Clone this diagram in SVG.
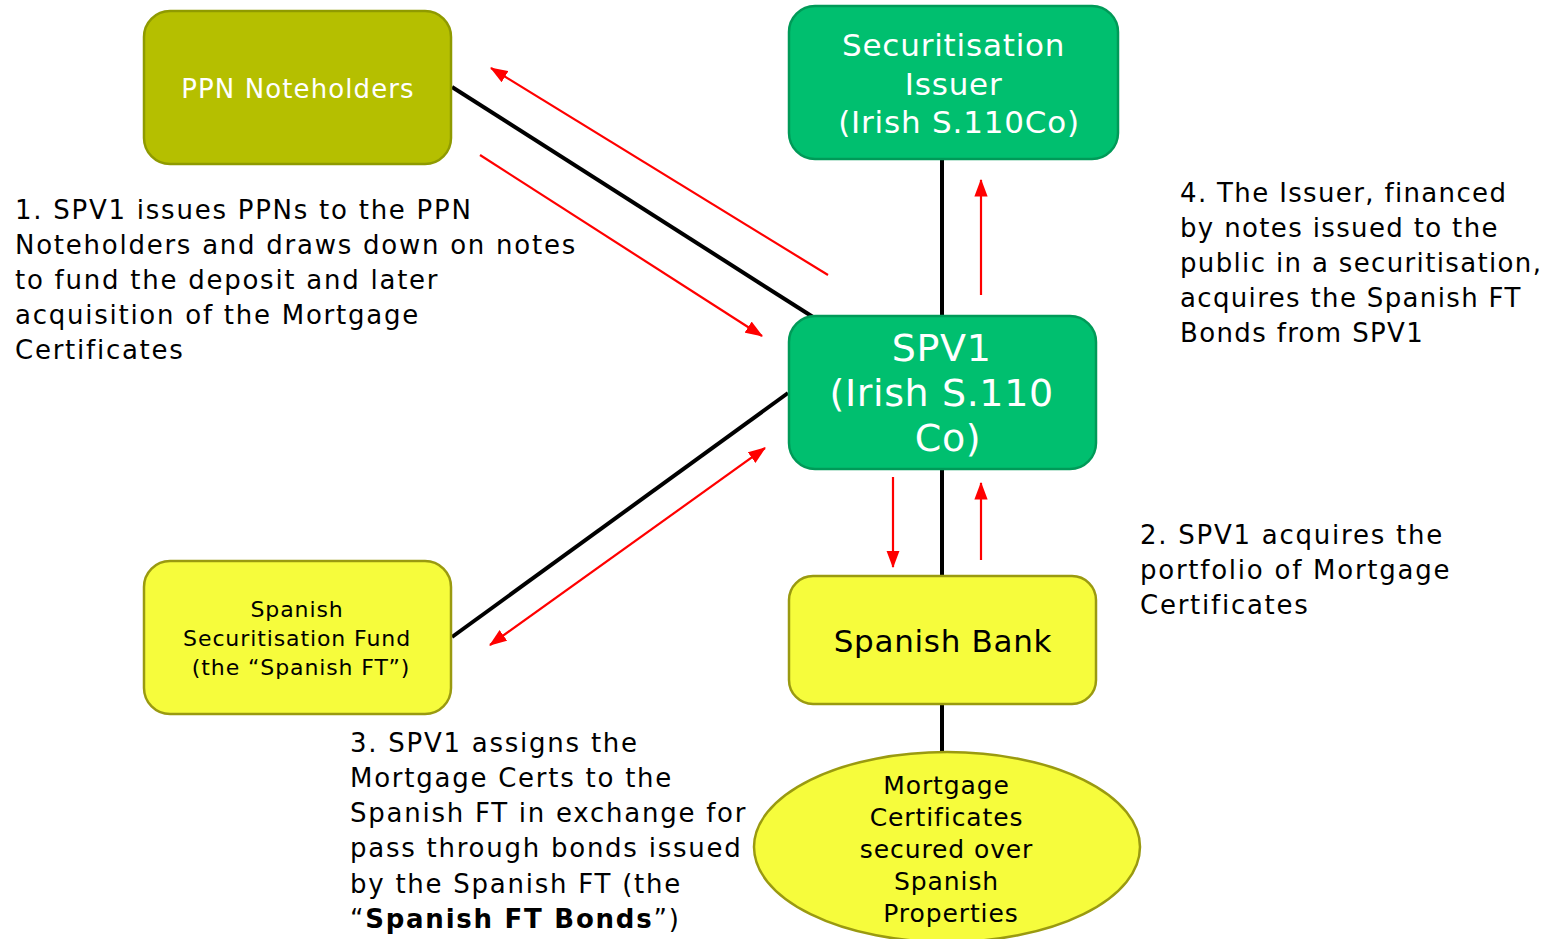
<svg xmlns="http://www.w3.org/2000/svg" width="1549" height="939" viewBox="0 0 1549 939">
  <style>
    text { font-family: "DejaVu Sans", Verdana, sans-serif; }
    .olive { fill: #b5bf00; stroke: #8f9a00; stroke-width: 2.5; }
    .green { fill: #00bf6f; stroke: #009a58; stroke-width: 2.5; }
    .yellow { fill: #f6fc3c; stroke: #9a9a10; stroke-width: 2.5; }
    .wt { fill: #ffffff; text-anchor: middle; }
    .bt { fill: #000000; text-anchor: middle; }
    .note { fill: #000000; font-size: 26px; letter-spacing: 1.75px; }
    .note.tight { letter-spacing: 1.35px; }
    .link { stroke: #000000; stroke-width: 4; fill: none; }
    .flow { stroke: #ff0000; stroke-width: 2.2; fill: none; }
  </style>
  <defs>
    <marker id="ah" markerWidth="8" markerHeight="6" refX="7.5" refY="3" orient="auto" markerUnits="strokeWidth">
      <path d="M0,0 L8,3 L0,6 Z" fill="#ff0000"/>
    </marker>
    <marker id="ahs" markerWidth="8" markerHeight="6" refX="0.5" refY="3" orient="auto" markerUnits="strokeWidth">
      <path d="M8,0 L0,3 L8,6 Z" fill="#ff0000"/>
    </marker>
  </defs>

  <rect width="1549" height="939" fill="#ffffff"/>

  <!-- connectors -->
  <g id="connectors">
    <line class="link" x1="452" y1="87" x2="813" y2="317"/>
    <line class="link" x1="788" y1="393" x2="452" y2="637"/>
    <line class="link" x1="942" y1="159" x2="942" y2="315"/>
    <line class="link" x1="942" y1="469" x2="942" y2="575"/>
    <line class="link" x1="942" y1="704" x2="942" y2="753"/>

    <line class="flow" x1="828" y1="275" x2="491" y2="68" marker-end="url(#ah)"/>
    <line class="flow" x1="480" y1="155" x2="762" y2="336" marker-end="url(#ah)"/>
    <line class="flow" x1="490" y1="645" x2="765" y2="448" marker-start="url(#ahs)" marker-end="url(#ah)"/>
    <line class="flow" x1="981" y1="295" x2="981" y2="180" marker-end="url(#ah)"/>
    <line class="flow" x1="893" y1="477" x2="893" y2="567" marker-end="url(#ah)"/>
    <line class="flow" x1="981" y1="560" x2="981" y2="483" marker-end="url(#ah)"/>
  </g>

  <g id="ppn-noteholders">
    <rect class="olive" x="144" y="11" width="307" height="153" rx="26"/>
    <text class="wt" x="298" y="98" font-size="26" letter-spacing="1.1">PPN Noteholders</text>
  </g>

  <g id="securitisation-issuer">
    <rect class="green" x="789" y="6" width="329" height="153" rx="26"/>
    <text class="wt" font-size="31" letter-spacing="0.8">
      <tspan x="959" y="56">Securitisation</tspan>
      <tspan x="959" y="95">Issuer</tspan>
      <tspan x="959" y="133">(Irish S.110Co)</tspan>
    </text>
  </g>

  <g id="spv1">
    <rect class="green" x="789" y="316" width="307" height="153" rx="26"/>
    <text class="wt" font-size="38" letter-spacing="0.6">
      <tspan x="948" y="361">SPV1</tspan>
      <tspan x="948" y="406">(Irish S.110</tspan>
      <tspan x="948" y="451">Co)</tspan>
    </text>
  </g>

  <g id="spanish-ft">
    <rect class="yellow" x="144" y="561" width="307" height="153" rx="26"/>
    <text class="bt" font-size="22" letter-spacing="0.9">
      <tspan x="301" y="617">Spanish</tspan>
      <tspan x="301" y="646">Securitisation Fund</tspan>
      <tspan x="301" y="675">(the “Spanish FT”)</tspan>
    </text>
  </g>

  <g id="spanish-bank">
    <rect class="yellow" x="789" y="576" width="307" height="128" rx="24"/>
    <text class="bt" x="943" y="652" font-size="31" letter-spacing="0.7">Spanish Bank</text>
  </g>

  <g id="mortgage-certificates">
    <ellipse class="yellow" cx="947" cy="847" rx="193" ry="95"/>
    <text class="bt" font-size="25" letter-spacing="0.9">
      <tspan x="951" y="794">Mortgage</tspan>
      <tspan x="951" y="826">Certificates</tspan>
      <tspan x="951" y="858">secured over</tspan>
      <tspan x="951" y="890">Spanish</tspan>
      <tspan x="951" y="922">Properties</tspan>
    </text>
  </g>

  <!-- step descriptions -->
  <g id="step-1">
    <text class="note">
      <tspan x="15" y="219">1. SPV1 issues PPNs to the PPN</tspan>
      <tspan x="15" y="254">Noteholders and draws down on notes</tspan>
      <tspan x="15" y="289">to fund the deposit and later</tspan>
      <tspan x="15" y="324">acquisition of the Mortgage</tspan>
      <tspan x="15" y="359">Certificates</tspan>
    </text>
  </g>

  <g id="step-2">
    <text class="note">
      <tspan x="1140" y="544">2. SPV1 acquires the</tspan>
      <tspan x="1140" y="579">portfolio of Mortgage</tspan>
      <tspan x="1140" y="614">Certificates</tspan>
    </text>
  </g>

  <g id="step-3">
    <text class="note">
      <tspan x="350" y="752">3. SPV1 assigns the</tspan>
      <tspan x="350" y="787">Mortgage Certs to the</tspan>
      <tspan x="350" y="822">Spanish FT in exchange for</tspan>
      <tspan x="350" y="857">pass through bonds issued</tspan>
      <tspan x="350" y="893">by the Spanish FT (the</tspan>
      <tspan x="350" y="928">“<tspan font-weight="bold">Spanish FT Bonds</tspan>”)</tspan>
    </text>
  </g>

  <g id="step-4">
    <text class="note tight">
      <tspan x="1180" y="202">4. The Issuer, financed</tspan>
      <tspan x="1180" y="237">by notes issued to the</tspan>
      <tspan x="1180" y="272">public in a securitisation,</tspan>
      <tspan x="1180" y="307">acquires the Spanish FT</tspan>
      <tspan x="1180" y="342">Bonds from SPV1</tspan>
    </text>
  </g>
</svg>
